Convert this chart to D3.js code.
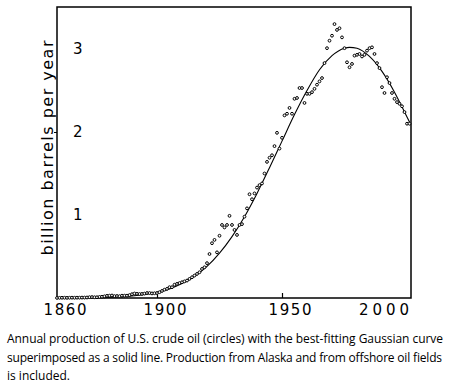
<!DOCTYPE html>
<html lang="en">
<head>
    <meta charset="UTF-8">
    <title>U.S. crude oil production</title>
    <script src="https://cdnjs.cloudflare.com/ajax/libs/d3/7.8.5/d3.min.js"></script>
    <style>
        body {
            margin: 0;
            background: #fff;
        }
        svg {
            display: block;
        }
        .frame {
            fill: none;
            stroke: #000;
            stroke-width: 1.5px;
        }
        .fit {
            fill: none;
            stroke: #000;
            stroke-width: 1.1px;
        }
        .dot {
            fill: #fff;
            stroke: #000;
            stroke-width: 1px;
        }
        .tick-label {
            font-family: "DejaVu Sans", sans-serif;
            font-size: 15px;
            fill: #000;
        }
        .axis-title {
            font-family: "DejaVu Sans", sans-serif;
            font-size: 16px;
            fill: #000;
        }
        .caption {
            font-family: "Open Sans", sans-serif;
            font-size: 12px;
            fill: #000;
        }
    </style>
</head>
<body>
    <svg width="451" height="385"></svg>

    <script>
        // annual production, billion barrels per year (circles)
        const years = d3.range(1860, 2002);
        const production = [
            0.001, 0.002, 0.003, 0.003, 0.002, 0.003, 0.004, 0.003, 0.004, 0.004,
            0.005, 0.005, 0.006, 0.010, 0.011, 0.009, 0.009, 0.013, 0.015, 0.020,
            0.026, 0.028, 0.030, 0.023, 0.024, 0.022, 0.028, 0.028, 0.028, 0.035,
            0.046, 0.054, 0.050, 0.048, 0.049, 0.053, 0.060, 0.060, 0.055, 0.057,
            0.060, 0.070, 0.085, 0.100, 0.110, 0.130, 0.130, 0.160, 0.170, 0.180,
            0.190, 0.200, 0.210, 0.230, 0.250, 0.270, 0.290, 0.310, 0.350, 0.370,
            0.420, 0.530, 0.660, 0.700, 0.550, 0.750, 0.880, 0.850, 0.880, 0.990,
            0.880, 0.820, 0.760, 0.880, 0.890, 0.980, 1.080, 1.250, 1.190, 1.260,
            1.330, 1.360, 1.380, 1.500, 1.640, 1.690, 1.720, 1.830, 1.990, 1.800,
            1.930, 2.200, 2.220, 2.290, 2.220, 2.400, 2.410, 2.530, 2.530, 2.350,
            2.460, 2.460, 2.480, 2.520, 2.570, 2.610, 2.650, 2.830, 3.010, 3.100,
            3.160, 3.300, 3.230, 3.250, 3.140, 3.010, 2.840, 2.780, 2.820, 2.920,
            2.930, 2.940, 2.910, 2.930, 2.980, 3.010, 3.020, 2.940, 2.830, 2.770,
            2.540, 2.470, 2.660, 2.590, 2.470, 2.400, 2.360, 2.340, 2.310, 2.240,
            2.100, 2.100
        ];

        // best-fitting Gaussian
        const fitYears = [1860, 1870, 1880, 1890, 1895, 1900, 1905, 1910, 1915, 1920, 1925,
            1930, 1935, 1940, 1945, 1950, 1955, 1960, 1965, 1970, 1975, 1977, 1980,
            1985, 1990, 1995, 2000, 2001.5];
        const fitValues = [0.000, 0.002, 0.008, 0.025, 0.043, 0.070, 0.110, 0.175, 0.260, 0.380, 0.540,
            0.740, 0.980, 1.260, 1.570, 1.890, 2.210, 2.500, 2.750, 2.920, 3.010, 3.020, 3.010,
            2.910, 2.730, 2.480, 2.180, 2.090];

        const xTicks = [1860, 1900, 1950, 2000];
        const yTicks = [1, 2, 3];
        const yTitle = "billion barrels per year";
        const captionLines = [
            "Annual production of U.S. crude oil (circles) with the best-fitting Gaussian curve",
            "superimposed as a solid line. Production from Alaska and from offshore oil fields",
            "is included."
        ];

        const svg = d3.select("svg");

        const x = d3.scaleLinear().domain([1860, 2001.6]).range([57, 411]);
        const y = d3.scaleLinear().domain([0, 3.506]).range([298, 7]);

        // frame round the plot
        svg.append("rect")
            .attr("class", "frame")
            .attr("x", x.range()[0])
            .attr("y", y.range()[1])
            .attr("width", x.range()[1] - x.range()[0])
            .attr("height", y.range()[0] - y.range()[1]);

        // the few small tick marks that show
        const xAxis = svg.append("g")
            .attr("transform", `translate(0,${y(0)})`)
            .call(d3.axisBottom(x).tickValues([1900, 1950]).tickSizeInner(-5).tickSizeOuter(0).tickFormat(""));
        xAxis.select(".domain").remove();
        xAxis.selectAll("line").attr("stroke-width", 1.2);

        const yAxis = svg.append("g")
            .attr("transform", `translate(${x(1860)},0)`)
            .call(d3.axisLeft(y).tickValues([2]).tickSizeInner(3).tickSizeOuter(0).tickFormat(""));
        yAxis.select(".domain").remove();

        svg.selectAll(".x-label")
            .data(xTicks)
            .enter()
            .append("text")
            .attr("class", "tick-label")
            .attr("x", d => Math.min(x(d) + 8, x.range()[1] - 27))
            .attr("y", y(0) + 17)
            .attr("text-anchor", "middle")
            .attr("textLength", d => d === 2000 ? 50 : 43)
            .attr("lengthAdjust", "spacing")
            .text(d => d);

        svg.selectAll(".y-label")
            .data(yTicks)
            .enter()
            .append("text")
            .attr("class", "tick-label")
            .attr("x", x(1860) + 16)
            .attr("y", d => y(d) + 5.5)
            .text(d => d);

        svg.append("text")
            .attr("class", "axis-title")
            .attr("transform", `translate(53,148) rotate(-90)`)
            .attr("text-anchor", "middle")
            .attr("textLength", 215)
            .attr("lengthAdjust", "spacing")
            .text(yTitle);

        // fitted curve
        const line = d3.line()
            .x(d => x(d[0]))
            .y(d => y(d[1]))
            .curve(d3.curveMonotoneX);

        svg.append("path")
            .attr("class", "fit")
            .attr("d", line(fitYears.map((yr, i) => [yr, fitValues[i]])));

        // production points
        svg.selectAll(".dot")
            .data(years.map((yr, i) => ({ year: yr, value: production[i] })))
            .enter()
            .append("circle")
            .attr("class", "dot")
            .attr("cx", d => x(d.year))
            .attr("cy", d => y(d.value))
            .attr("r", 1.4);

        // caption
        svg.selectAll(".caption")
            .data(captionLines)
            .enter()
            .append("text")
            .attr("class", "caption")
            .attr("x", 7)
            .attr("y", (d, i) => 343 + i * 18.5)
            .attr("textLength", (d, i) => i === 0 ? 436 : (i === 1 ? 435 : null))
            .attr("lengthAdjust", "spacing")
            .text(d => d);
    </script>
</body>
</html>
